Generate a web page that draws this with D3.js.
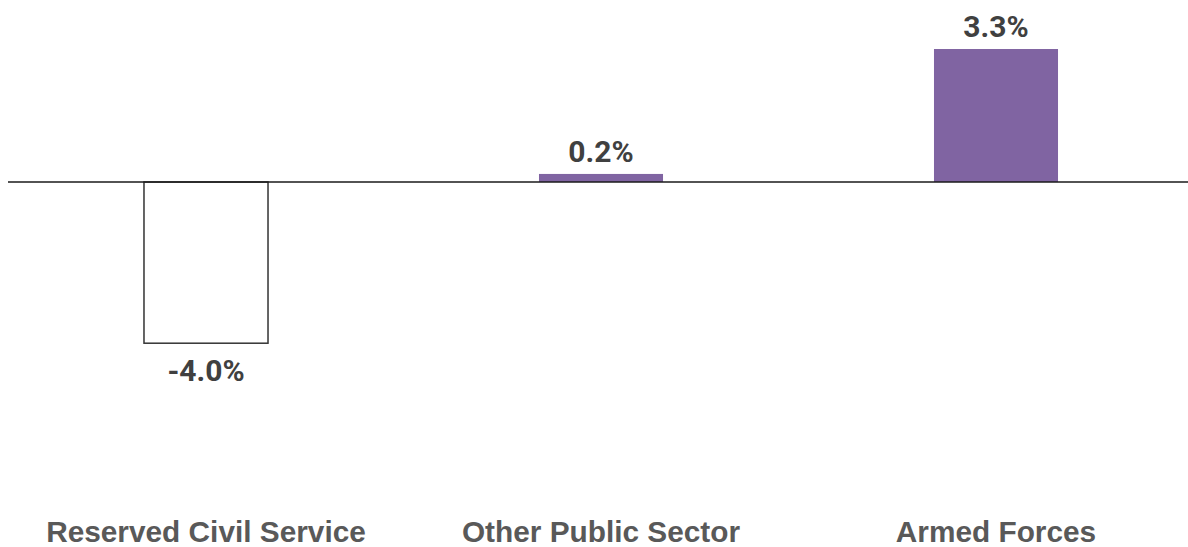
<!DOCTYPE html>
<html lang="en">
<head>
    <meta charset="UTF-8">
    <script src="https://cdn.jsdelivr.net/npm/d3@7"></script>
    <title>Change by sector</title>
    <style>
        body { margin: 0; background: #fff; }
        .value-label { font-family: Roboto, "Liberation Sans", sans-serif; font-weight: bold; font-size: 30px; fill: #404040; }
        .cat-label { font-family: "Liberation Sans", Arial, sans-serif; font-weight: bold; font-size: 29.8px; fill: #595959; }
    </style>
</head>
<body>
    <div id="chart"></div>
    <script>
        // Data
        const categories = ["Reserved Civil Service", "Other Public Sector", "Armed Forces"];
        const values = [-4.0, 0.2, 3.3];

        const width = 1188, height = 547;
        const zeroY = 182;
        const pxPerPct = 40.3;

        const svg = d3.select("#chart").append("svg")
            .attr("width", width)
            .attr("height", height);

        const x = d3.scaleBand()
            .domain(categories)
            .range([8.5, 1193.5])
            .paddingInner(0.686)
            .paddingOuter(0.343);

        const y = d3.scaleLinear()
            .domain([0, 3.3])
            .range([zeroY, zeroY - 3.3 * pxPerPct]);

        const data = categories.map((c, i) => ({ cat: c, val: values[i] }));

        // Bars
        svg.selectAll("rect.bar")
            .data(data)
            .enter()
            .append("rect")
            .attr("class", "bar")
            .attr("x", d => x(d.cat))
            .attr("width", x.bandwidth())
            .attr("y", d => Math.min(y(d.val), y(0)))
            .attr("height", d => Math.abs(y(d.val) - y(0)))
            .attr("fill", d => d.val < 0 ? "#ffffff" : "#8064a2")
            .attr("stroke", d => d.val < 0 ? "#333333" : "none")
            .attr("stroke-width", 1.5);

        // Zero line
        svg.append("line")
            .attr("x1", 8)
            .attr("x2", width)
            .attr("y1", y(0))
            .attr("y2", y(0))
            .attr("stroke", "#1a1a1a")
            .attr("stroke-width", 1.5);

        // Value labels (plain hyphen for negatives, like the source)
        const fmt = d3.format(".1f");
        svg.selectAll("text.value-label")
            .data(data)
            .enter()
            .append("text")
            .attr("class", "value-label")
            .attr("x", d => x(d.cat) + x.bandwidth() / 2)
            .attr("y", d => d.val < 0 ? y(d.val) + 38 : y(d.val) - 12)
            .attr("text-anchor", "middle")
            .text(d => fmt(d.val).replace("\u2212", "-") + "%");

        // Category labels
        svg.selectAll("text.cat-label")
            .data(data)
            .enter()
            .append("text")
            .attr("class", "cat-label")
            .attr("x", d => x(d.cat) + x.bandwidth() / 2)
            .attr("y", 542)
            .attr("text-anchor", "middle")
            .text(d => d.cat);
    </script>
</body>
</html>
